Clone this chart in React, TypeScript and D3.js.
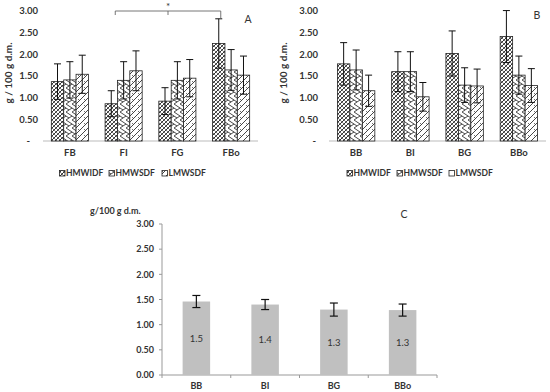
import React from "react";
import * as d3 from "d3";

const series = ["HMWIDF", "HMWSDF", "LMWSDF"];
const catsA = ["FB", "FI", "FG", "FBo"];
const valsA = [
  [1.37, 0.86, 0.92, 2.25],
  [1.41, 1.4, 1.4, 1.64],
  [1.54, 1.62, 1.45, 1.52],
];
const errA = [
  [0.41, 0.3, 0.31, 0.57],
  [0.42, 0.43, 0.43, 0.47],
  [0.44, 0.46, 0.43, 0.44],
];
const catsB = ["BB", "BI", "BG", "BBo"];
const valsB = [
  [1.78, 1.6, 2.02, 2.41],
  [1.64, 1.6, 1.29, 1.52],
  [1.16, 1.02, 1.27, 1.28],
];
const errB = [
  [0.49, 0.46, 0.52, 0.6],
  [0.46, 0.46, 0.4, 0.44],
  [0.36, 0.33, 0.39, 0.39],
];
const catsC = ["BB", "BI", "BG", "BBo"];
const valsC = [1.46, 1.4, 1.3, 1.29];
const errC = [0.12, 0.1, 0.13, 0.12];
const labelsC = ["1.5", "1.4", "1.3", "1.3"];
const yTicks = [0, 0.5, 1, 1.5, 2, 2.5, 3];

const FONT = "Lato, 'Liberation Sans', sans-serif";
const patIds = ["pA", "pB", "pC"];

function Patterns() {
  return (
    <defs>
      <pattern id="pA" width="4" height="4" patternUnits="userSpaceOnUse">
        <rect width="4" height="4" fill="#fff" />
        <path d="M0,4 L4,0 M-1,1 L1,-1 M3,5 L5,3" stroke="#333" strokeWidth="1" />
        <path d="M0,0 L4,4 M-1,3 L1,5 M3,-1 L5,1" stroke="#555" strokeWidth="0.8" />
      </pattern>
      <pattern id="pB" width="6" height="8" patternUnits="userSpaceOnUse">
        <rect width="6" height="8" fill="#fff" />
        <path d="M0,0 L6,4 L0,8" fill="none" stroke="#333" strokeWidth="0.9" />
        <path d="M0,4 L3,6" fill="none" stroke="#333" strokeWidth="0.9" />
      </pattern>
      <pattern id="pC" width="6" height="6" patternUnits="userSpaceOnUse">
        <rect width="6" height="6" fill="#fff" />
        <path d="M0,6 L6,0 M-1,1 L1,-1 M5,7 L7,5" stroke="#333" strokeWidth="0.9" />
        <path d="M0,3 L1.5,4.5" stroke="#333" strokeWidth="0.7" />
      </pattern>
    </defs>
  );
}

function GroupChart({
  ox, cats, vals, errs, x0, x1, tickEnd, zeroX, letter, letterX, letterY, legendX, plainLast, bracket,
}: any) {
  const y = d3.scaleLinear().domain([0, 3]).range([141, 11]);
  const xb = d3.scaleBand().domain(cats).range([x0, x1]).paddingInner(0.31).paddingOuter(0.155);
  const xs = d3.scaleBand().domain(series).range([0, xb.bandwidth()]);
  const bw = xs.bandwidth();
  const cx = (ci: number, si: number) => (xb(cats[ci]) as number) + (xs(series[si]) as number) + bw / 2;
  return (
    <g>
      <text transform={`translate(${ox + 12},73) rotate(-90)`} textAnchor="middle" fontSize="10" fontWeight="bold" fill="#333" fontFamily={FONT}>
        g / 100 g d.m.
      </text>
      {yTicks.map((t) => (
        <text key={t} x={t === 0 ? zeroX : tickEnd} y={y(t) + 3.4} textAnchor="end" fontSize="9.5" fontWeight="bold" fill="#333" fontFamily={FONT}>
          {t === 0 ? "-" : t.toFixed(2)}
        </text>
      ))}
      <line x1={x0} x2={x1} y1={y(0)} y2={y(0)} stroke="#bbb" strokeWidth="1" />
      {series.map((s, si) =>
        cats.map((c: string, ci: number) => {
          const v = vals[si][ci];
          const e = errs[si][ci];
          const xc = cx(ci, si);
          return (
            <g key={s + c}>
              <rect x={xc - bw / 2} y={y(v)} width={bw} height={y(0) - y(v)} fill={`url(#${patIds[si]})`} stroke="#222" strokeWidth="0.8" />
              <line x1={xc} x2={xc} y1={y(v - e)} y2={y(v + e)} stroke="#111" strokeWidth="1" />
              <line x1={xc - 3.5} x2={xc + 3.5} y1={y(v + e)} y2={y(v + e)} stroke="#111" strokeWidth="1" />
              <line x1={xc - 3.5} x2={xc + 3.5} y1={y(v - e)} y2={y(v - e)} stroke="#111" strokeWidth="1" />
            </g>
          );
        })
      )}
      {cats.map((c: string) => (
        <text key={c} x={(xb(c) as number) + xb.bandwidth() / 2} y={156} textAnchor="middle" fontSize="9.5" fontWeight="bold" fill="#333" fontFamily={FONT}>
          {c}
        </text>
      ))}
      <text x={letterX} y={letterY} textAnchor="middle" fontSize="10.5" fill="#333" fontFamily={FONT}>
        {letter}
      </text>
      {bracket && (() => {
        const a = cx(bracket[0], 0) + 4;
        const b = cx(bracket[1], 0) + 2;
        const m = (a + b) / 2;
        const bEnd = y(vals[0][bracket[1]] + errs[0][bracket[1]]);
        return (
          <g>
            <path d={`M${a},15 L${a},11 L${b},11 L${b},${bEnd} M${m},11 L${m},15`} fill="none" stroke="#666" strokeWidth="0.9" />
            <text x={m} y={9.5} textAnchor="middle" fontSize="10" fill="#333" fontFamily={FONT}>*</text>
          </g>
        );
      })()}
      {series.map((s, si) => {
        const lx = legendX[si];
        return (
          <g key={s}>
            <rect x={lx} y={170.5} width={5.5} height={5.5} fill={plainLast && si === 2 ? "#fff" : `url(#${patIds[si]})`} stroke="#222" strokeWidth="0.8" />
            <text x={lx + 6.5} y={176} fontSize="8.5" fontWeight="bold" fill="#333" fontFamily={FONT}>
              {s}
            </text>
          </g>
        );
      })}
    </g>
  );
}

function ChartC() {
  const y = d3.scaleLinear().domain([0, 3]).range([375, 224]);
  const x = d3.scaleBand().domain(catsC).range([162, 437]).paddingInner(0.6).paddingOuter(0.3);
  const bw = x.bandwidth();
  const bounds = [162, ...catsC.map((c) => (x(c) as number) + bw / 2 + x.step() / 2)];
  return (
    <g>
      <text x={90} y={214} fontSize="9" fontWeight="bold" fill="#333" fontFamily={FONT}>g/100 g d.m.</text>
      <text x={404} y={218} textAnchor="middle" fontSize="10.5" fill="#333" fontFamily={FONT}>C</text>
      <line x1={162} x2={162} y1={y(0)} y2={y(3)} stroke="#999" />
      {yTicks.map((t) => (
        <g key={t}>
          <line x1={159} x2={162} y1={y(t)} y2={y(t)} stroke="#999" />
          <text x={154} y={y(t) + 3.2} textAnchor="end" fontSize="9" fontWeight="bold" fill="#333" fontFamily={FONT}>
            {t.toFixed(2)}
          </text>
        </g>
      ))}
      <line x1={162} x2={437} y1={y(0)} y2={y(0)} stroke="#999" />
      {bounds.map((b, i) => (
        <line key={i} x1={b} x2={b} y1={y(0)} y2={y(0) + 3} stroke="#999" />
      ))}
      {catsC.map((c, i) => {
        const v = valsC[i];
        const e = errC[i];
        const xc = (x(c) as number) + bw / 2;
        return (
          <g key={c}>
            <rect x={x(c)} y={y(v)} width={bw} height={y(0) - y(v)} fill="#c0c0c0" />
            <line x1={xc} x2={xc} y1={y(v - e)} y2={y(v + e)} stroke="#111" strokeWidth="1.2" />
            <line x1={xc - 4} x2={xc + 4} y1={y(v + e)} y2={y(v + e)} stroke="#111" strokeWidth="1.2" />
            <line x1={xc - 4} x2={xc + 4} y1={y(v - e)} y2={y(v - e)} stroke="#111" strokeWidth="1.2" />
            <text x={xc} y={(y(v) + y(0)) / 2 + 3.5} textAnchor="middle" fontSize="9.5" fill="#333" fontFamily={FONT}>
              {labelsC[i]}
            </text>
            <text x={xc} y={389} textAnchor="middle" fontSize="9" fontWeight="bold" fill="#333" fontFamily={FONT}>{c}</text>
          </g>
        );
      })}
    </g>
  );
}

export default function App() {
  return (
    <svg width={550} height={392} style={{ position: "absolute", left: 0, top: 0, background: "#fff" }}>
      <Patterns />
      <rect width={550} height={392} fill="#fff" />
      <GroupChart ox={0} cats={catsA} vals={valsA} errs={errA} x0={43} x1={258} tickEnd={38} zeroX={30}
        letter="A" letterX={248} letterY={23} legendX={[59.5, 109, 162]} plainLast={false} bracket={[1, 3]} />
      <GroupChart ox={275} cats={catsB} vals={valsB} errs={errB} x0={329} x1={546} tickEnd={318} zeroX={316}
        letter="B" letterX={537} letterY={19} legendX={[347, 397, 449]} plainLast={true} bracket={null} />
      <ChartC />
    </svg>
  );
}
